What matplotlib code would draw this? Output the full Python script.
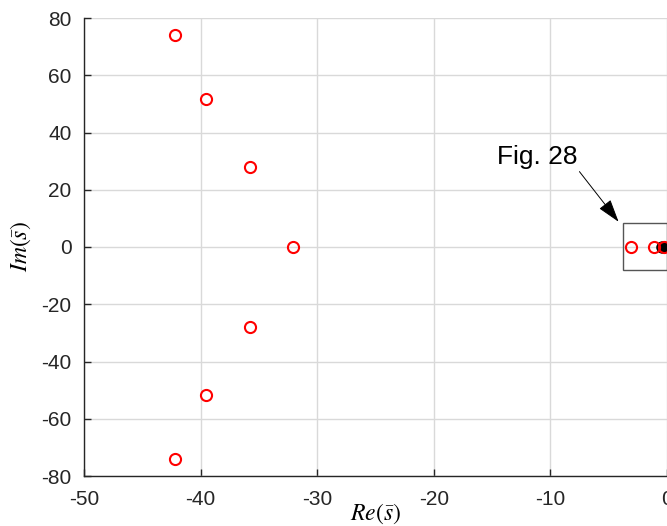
import numpy as np
import matplotlib as mpl
mpl.use('Agg')
import matplotlib.pyplot as plt
from matplotlib.patches import Rectangle

plt.rcParams['font.family'] = ['Liberation Sans', 'DejaVu Sans']
plt.rcParams['mathtext.fontset'] = 'stix'
plt.rcParams['axes.unicode_minus'] = False

# poles of the closed loop (red circles)
pole_re = [-42.2, -39.5, -35.8, -32.1, -35.8, -39.5, -42.2, -3.1, -1.1, -0.3]
pole_im = [74.0, 51.7, 28.0, 0.0, -28.0, -51.7, -74.0, 0.0, 0.0, 0.0]
# dominant point near the origin (black)
dom_re = [-0.45]
dom_im = [0.0]

xticks = [-50, -40, -30, -20, -10, 0]
yticks = [-80, -60, -40, -20, 0, 20, 40, 60, 80]

fig = plt.figure(figsize=(6.67, 5.26), dpi=100)
ax = fig.add_axes([84 / 667, 50 / 526, 1 - 84 / 667, 458 / 526])

ax.plot(dom_re, dom_im, 'o', color='black', markersize=8, zorder=4, clip_on=False)
ax.plot(pole_re, pole_im, 'o', mfc='none', mec='red', mew=1.5, markersize=8,
        linestyle='none', zorder=5, clip_on=False)

# zoom window marker
ax.add_patch(Rectangle((-3.8, -8.0), 3.8, 16.5, fill=False, edgecolor='#555555',
                       linewidth=1.0, zorder=3))
ax.annotate('Fig. 28', xy=(-4.15, 8.8), xytext=(-14.6, 31.5),
            fontsize=19, va='center', ha='left',
            arrowprops=dict(arrowstyle='-|>,head_length=0.8,head_width=0.25',
                            color='black', lw=0.7,
                            mutation_scale=18, shrinkA=0, shrinkB=0,
                            relpos=(1.0, 0.0)))

ax.set_xlim(-50, 0)
ax.set_ylim(-80, 80)
ax.set_xticks(xticks)
ax.set_yticks(yticks)
ax.tick_params(direction='in', labelsize=15, length=5, width=1, colors='#262626')
ax.tick_params(axis='x', pad=10)
ax.tick_params(axis='y', pad=9)
ax.grid(True, color='#d9d9d9', linewidth=1.0)
ax.set_axisbelow(True)
for s in ['top', 'right']:
    ax.spines[s].set_visible(False)
for s in ['left', 'bottom']:
    ax.spines[s].set_color('#262626')
    ax.spines[s].set_linewidth(1.0)

ax.set_xlabel(r'$Re(\bar{s})$', fontsize=17, va='center')
ax.xaxis.set_label_coords(0.5, -0.083)
ax.set_ylabel(r'$Im(\bar{s})$', fontsize=17, labelpad=6)

fig.savefig('out.png', dpi=100)
